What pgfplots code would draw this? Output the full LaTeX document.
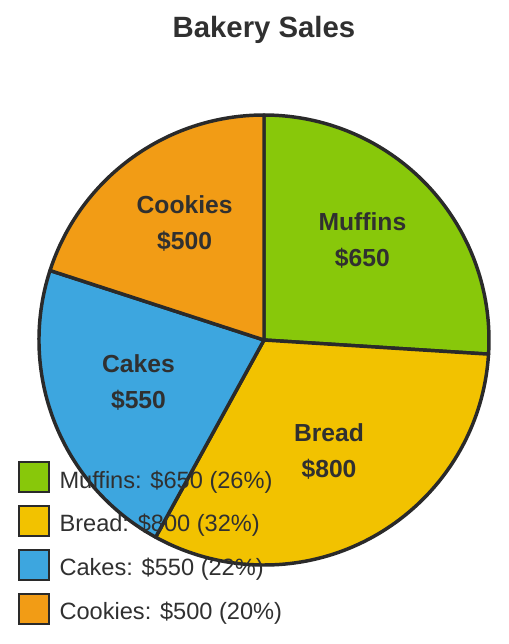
\documentclass[border=0pt]{standalone}
\usepackage{pgfplots}
\pgfplotsset{compat=1.18}
\usepackage{pgfplotstable}
\usetikzlibrary{calc}
\usepackage{fontspec}
\setmainfont{Liberation Sans}

\definecolor{cMuf}{RGB}{136,200,10}
\definecolor{cBre}{RGB}{242,194,0}
\definecolor{cCak}{RGB}{61,166,223}
\definecolor{cCoo}{RGB}{242,156,21}
\definecolor{edge}{RGB}{42,42,42}
\definecolor{txt}{RGB}{48,48,48}

% slices, clockwise from 12 o'clock
\pgfplotstableread{
name value color
Muffins 650 cMuf
Bread 800 cBre
Cakes 550 cCak
Cookies 500 cCoo
}\piedata

\begin{document}
\begin{tikzpicture}
\begin{axis}[
    scale only axis,
    width=381.75pt, height=483pt,
    xmin=0, xmax=509, ymin=0, ymax=644,
    y dir=reverse,
    hide axis,
    clip=false,
    legend style={at={(axis cs:18,461)}, anchor=north west,
        draw=none, fill=none, inner sep=0pt,
        font=\fontsize{17.7}{21}\selectfont, text=txt,
        row sep=8.9pt,
        nodes={inner sep=0pt}},
    legend cell align=left,
    legend image code/.code={
        \draw[#1, draw=edge, line width=1.5pt] (0pt,-9pt) rectangle (22.5pt,13.5pt);
        \path (30pt,0pt);},
]
\pgfplotsextra{
    \path (axis cs:0,0) rectangle (axis cs:509,644);
    \node[font=\fontsize{22}{26}\selectfont\bfseries, text=txt] at (axis cs:264,30) {Bakery Sales};
    \gdef\cumsum{0}
    \gdef\total{2500}
    \foreach \i in {0,1,2,3} {
        \pgfplotstablegetelem{\i}{value}\of\piedata \let\v\pgfplotsretval
        \pgfplotstablegetelem{\i}{color}\of\piedata \let\c\pgfplotsretval
        \pgfmathsetmacro\a{90-\cumsum/\total*360}
        \pgfmathsetmacro\b{90-(\cumsum+\v)/\total*360}
        \draw[fill=\c, draw=edge, line width=2.6pt, line join=round]
            (axis cs:264,340) -- ++(\a:168.75pt)
            arc[start angle=\a, end angle=\b, radius=168.75pt] -- cycle;
        \pgfmathsetmacro\ns{\cumsum+\v}\xdef\cumsum{\ns}
    }
    \gdef\cumsum{0}
    \foreach \i in {0,1,2,3} {
        \pgfplotstablegetelem{\i}{value}\of\piedata \let\v\pgfplotsretval
        \pgfplotstablegetelem{\i}{name}\of\piedata \let\n\pgfplotsretval
        \pgfmathsetmacro\m{90-(\cumsum+\v/2)/\total*360}
        \pgfmathtruncatemacro\vv{\v}
        \node[font=\fontsize{18.5}{27}\selectfont\bfseries, text=txt, align=center]
            at ($(axis cs:264,340)+(\m:101.25pt)+(0,5.25pt)$) {\n\\\$\vv};
        \pgfmathsetmacro\ns{\cumsum+\v}\xdef\cumsum{\ns}
    }
}
\addlegendimage{fill=cMuf}\addlegendentry{Muffins: \$650 (26\%)}
\addlegendimage{fill=cBre}\addlegendentry{Bread: \$800 (32\%)}
\addlegendimage{fill=cCak}\addlegendentry{Cakes: \$550 (22\%)}
\addlegendimage{fill=cCoo}\addlegendentry{Cookies: \$500 (20\%)}
\end{axis}
\end{tikzpicture}
\end{document}
